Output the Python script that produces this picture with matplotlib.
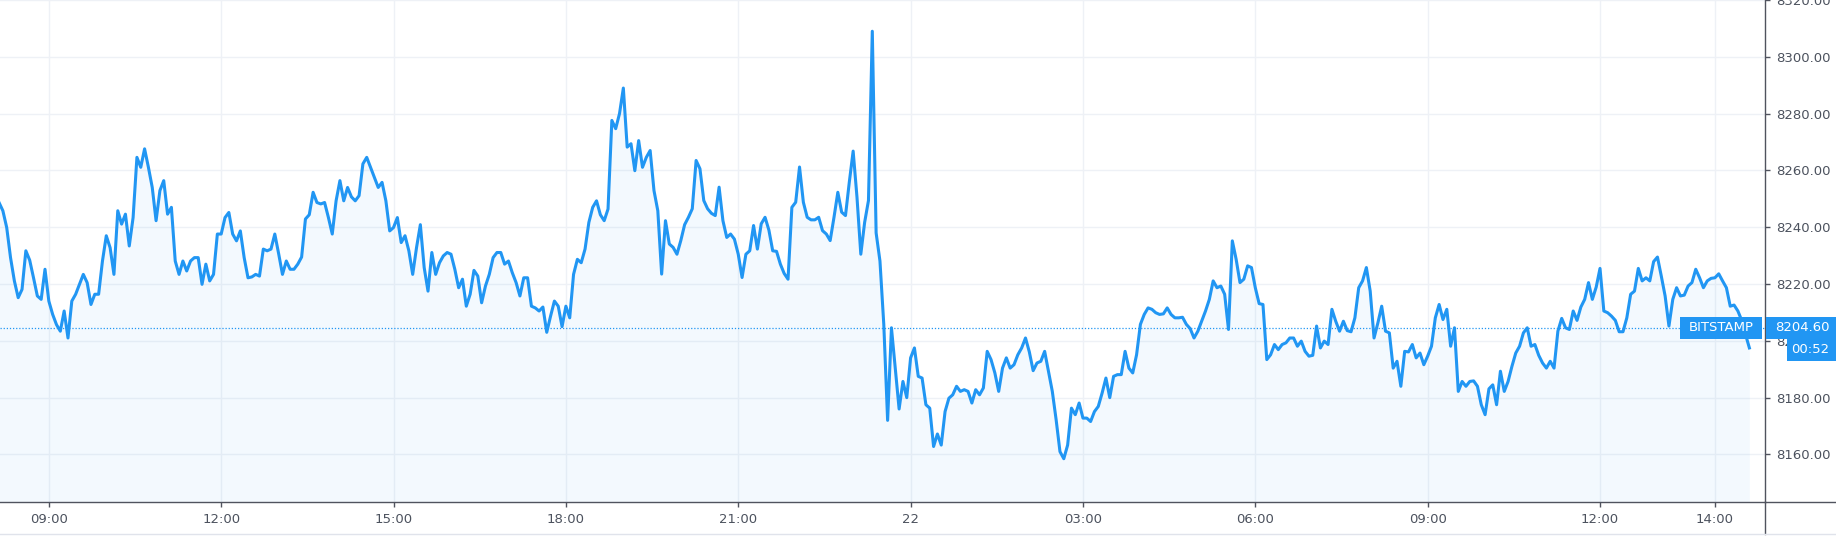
import matplotlib
matplotlib.use("Agg")  # no display

import matplotlib.pyplot as plt
import matplotlib.transforms as mtransforms
from matplotlib.patches import Rectangle
from matplotlib.lines import Line2D
import numpy as np
import pandas as pd

# BTC/USD on Bitstamp, 4-minute samples
start_time = "2019-10-21 08:08"
step = "4min"

prices_a = [8248.7, 8245.8, 8239.9, 8229.3, 8221.1, 8215.2, 8218.1, 8231.7, 8228.4, 8222.2,
            8215.8, 8214.6, 8225.2, 8214.0, 8209.3, 8205.7, 8203.4, 8210.5, 8201.0, 8214.0,
            8216.4, 8219.9, 8223.4, 8220.5, 8212.8, 8216.4, 8216.4, 8228.1, 8237.0, 8232.8,
            8223.4, 8245.8, 8241.1, 8244.6, 8233.4, 8243.4, 8264.6, 8261.1, 8267.6, 8261.1,
            8254.0, 8242.3, 8252.9, 8256.4, 8244.6, 8247.0, 8228.1, 8223.4, 8228.1, 8224.6,
            8228.1, 8229.3, 8229.3, 8219.9, 8227.0, 8221.1, 8223.4, 8237.6]
prices_b = [8237.6, 8243.4, 8245.2, 8237.6, 8235.2, 8238.7, 8229.3, 8222.2, 8222.5, 8223.4,
            8222.8, 8232.3, 8231.7, 8232.3, 8237.6, 8230.7, 8223.4, 8228.1, 8225.2, 8225.2,
            8227.0, 8229.5, 8242.9, 8244.4, 8252.3, 8248.7, 8248.2, 8248.7, 8243.4, 8237.6,
            8249.3, 8256.4, 8249.3, 8254.0, 8250.7, 8249.3, 8251.1, 8262.3, 8264.6, 8261.1,
            8257.6, 8254.0, 8255.8, 8249.3, 8238.7, 8239.9, 8243.4, 8234.6, 8237.0, 8231.7,
            8223.4, 8232.8, 8240.9, 8225.8, 8217.5, 8231.1, 8223.4, 8227.5]
prices_c = [8229.9, 8231.1, 8230.5, 8225.2, 8218.7, 8221.7, 8212.2, 8216.4, 8224.8, 8222.8,
            8213.4, 8219.3, 8223.4, 8229.3, 8231.1, 8231.1, 8227.0, 8228.1, 8224.0, 8220.5,
            8215.8, 8222.2, 8222.2, 8212.2, 8211.6, 8210.5, 8211.9, 8203.0, 8208.7, 8214.0,
            8212.2, 8205.0, 8212.2, 8208.1, 8223.4, 8228.7, 8227.5, 8232.3, 8241.7, 8247.0,
            8249.3, 8244.4, 8242.3, 8246.4, 8277.6, 8274.7, 8280.0, 8289.0, 8268.2, 8269.4,
            8259.9, 8270.5, 8261.1, 8264.6, 8267.0, 8252.9, 8245.8]
prices_d = [8223.5, 8242.3, 8234.1, 8232.9, 8230.5, 8235.3, 8240.9, 8243.5, 8246.5, 8263.5,
            8260.6, 8249.4, 8246.5, 8244.9, 8244.1, 8254.1, 8242.3, 8236.4, 8237.6, 8235.8,
            8230.5, 8222.3, 8230.5, 8231.7, 8240.6, 8232.3, 8241.2, 8243.5, 8239.0, 8231.7,
            8231.5, 8227.0, 8223.7, 8221.7, 8247.0, 8248.8, 8261.2, 8248.8, 8243.5, 8242.6,
            8242.6, 8243.5, 8238.8, 8237.6, 8235.3, 8243.5, 8252.3, 8245.3, 8244.1, 8255.9,
            8266.8, 8250.6, 8230.5, 8241.7, 8249.4, 8309.0, 8238.0]
prices_e = [8228.1, 8205.8, 8172.0, 8204.6, 8190.4, 8176.0, 8185.7, 8180.0, 8194.0, 8197.5,
            8187.5, 8186.9, 8177.5, 8176.3, 8162.8, 8167.2, 8163.3, 8175.1, 8179.8, 8181.0,
            8184.0, 8182.2, 8182.8, 8182.2, 8178.1, 8182.8, 8181.0, 8183.4, 8196.3, 8193.4,
            8188.7, 8182.2, 8190.4, 8194.0, 8190.4, 8191.6, 8195.1, 8197.5, 8201.0, 8196.1,
            8189.5, 8192.2, 8192.8, 8196.3, 8189.3, 8182.2, 8172.2, 8161.0, 8158.5, 8163.3,
            8176.3, 8174.0, 8178.1, 8172.8, 8172.8, 8171.6, 8175.1, 8176.9]
prices_f = [8181.6, 8186.9, 8180.0, 8187.5, 8188.1, 8188.1, 8196.3, 8190.4, 8188.7, 8195.1,
            8205.8, 8209.3, 8211.6, 8211.1, 8209.9, 8209.3, 8209.5, 8211.6, 8209.3, 8208.1,
            8208.1, 8208.3, 8205.8, 8204.3, 8201.0, 8203.4, 8206.9, 8210.5, 8214.6, 8221.1,
            8218.7, 8219.3, 8216.4, 8204.0, 8235.2, 8228.7, 8220.5, 8221.7, 8226.4, 8225.8,
            8218.7, 8213.1, 8212.8, 8193.4, 8195.1, 8198.7, 8196.9, 8198.7, 8199.3, 8201.0,
            8201.0, 8198.1, 8199.9, 8196.3, 8194.6, 8194.9, 8205.2, 8197.5]
prices_g = [8199.9, 8198.7, 8211.1, 8206.9, 8203.4, 8206.9, 8203.6, 8203.2, 8208.1, 8218.7,
            8221.1, 8225.8, 8217.5, 8201.0, 8206.3, 8212.2, 8203.4, 8202.8, 8190.4, 8192.8,
            8184.0, 8196.3, 8196.1, 8198.7, 8194.0, 8195.7, 8191.6, 8194.6, 8198.1, 8208.1,
            8212.8, 8207.5, 8211.1, 8198.1, 8204.6, 8182.2, 8185.7, 8184.0, 8185.7, 8185.9,
            8184.0, 8177.5, 8174.0, 8183.1, 8184.5, 8177.5, 8189.3, 8182.2, 8185.7, 8191.0,
            8195.7, 8198.1, 8202.8, 8204.6, 8198.1, 8198.7, 8194.9]
prices_h = [8192.2, 8190.4, 8192.8, 8190.4, 8203.4, 8207.9, 8204.6, 8204.0, 8210.5, 8207.2,
            8211.9, 8214.6, 8220.5, 8214.6, 8218.9, 8225.5, 8210.5, 8209.9, 8208.7, 8207.2,
            8203.2, 8203.2, 8208.1, 8216.4, 8217.5, 8225.5, 8221.1, 8222.2, 8221.1, 8227.9,
            8229.5, 8222.8, 8215.8, 8205.2, 8214.6, 8218.7, 8215.8, 8216.1, 8219.3, 8220.5,
            8225.2, 8222.2, 8218.7, 8221.1, 8222.0, 8222.2, 8223.6, 8221.1, 8218.7, 8212.2,
            8212.6, 8210.5, 8207.2, 8202.2, 8197.5]

last_price = 8204.60
last_label = "8204.60"
countdown = "00:52"
exchange = "BITSTAMP"

tick_times = ["2019-10-21 09:00", "2019-10-21 12:00", "2019-10-21 15:00", "2019-10-21 18:00",
              "2019-10-21 21:00", "2019-10-22 00:00", "2019-10-22 03:00", "2019-10-22 06:00",
              "2019-10-22 09:00", "2019-10-22 12:00", "2019-10-22 14:00"]
tick_labels = ["09:00", "12:00", "15:00", "18:00", "21:00", "22",
               "03:00", "06:00", "09:00", "12:00", "14:00"]
y_ticks = [8160, 8180, 8200, 8220, 8240, 8260, 8280, 8300, 8320]

prices = np.array(prices_a + prices_b + prices_c + prices_d +
                  prices_e + prices_f + prices_g + prices_h)
times = pd.date_range(start_time, periods=len(prices), freq=step)

blue = "#2196f3"
axis_col = "#50535e"
text_col = "#4c525e"
grid_col = "#eef1f6"
fs = 9.5

W, H = 1836, 538
fig = plt.figure(figsize=(W / 100, H / 100), dpi=100)
ax_right = 1764.7 / W
ax_bottom = (H - 501.6) / H
ax = fig.add_axes([0, ax_bottom, ax_right, 1 - ax_bottom])

y_lo, y_hi = 8143.4, 8320.0
ax.set_xlim(pd.Timestamp("2019-10-21 08:09"), pd.Timestamp("2019-10-22 14:52"))
ax.set_ylim(y_lo, y_hi)

ax.fill_between(times, prices, y_lo, color=blue, alpha=0.05, lw=0)
ax.plot(times, prices, color=blue, lw=2.2, solid_joinstyle="round")
ax.axhline(last_price, color=blue, lw=0.9, ls=(0, (1, 1.5)))

ax.set_axisbelow(True)
ax.grid(True, color=grid_col, lw=1)

ax.set_xticks(pd.to_datetime(tick_times))
ax.set_xticklabels(tick_labels)
ax.yaxis.tick_right()
ax.set_yticks(y_ticks)
ax.set_yticklabels([f"{v:.2f}" for v in y_ticks])
ax.tick_params(axis="both", colors=axis_col, labelcolor=text_col, labelsize=fs,
               length=3.5, width=1)
ax.tick_params(axis="x", pad=5)
ax.tick_params(axis="y", pad=5)

for side in ["top", "left"]:
    ax.spines[side].set_visible(False)
for side in ["right", "bottom"]:
    ax.spines[side].set_color(axis_col)
    ax.spines[side].set_linewidth(1)

# axis lines run on past the plot corner
fig.add_artist(Line2D([ax_right, ax_right], [(H - 533.5) / H, ax_bottom],
                      transform=fig.transFigure, color=axis_col, lw=1))
fig.add_artist(Line2D([ax_right, 1], [ax_bottom, ax_bottom],
                      transform=fig.transFigure, color=axis_col, lw=1))
fig.add_artist(Line2D([0, 1], [(H - 533.5) / H, (H - 533.5) / H],
                      transform=fig.transFigure, color="#e0e3eb", lw=1))

# last price labels
trans = mtransforms.blended_transform_factory(fig.transFigure, ax.transData)
box_h = 22 / 2.83  # price units
ax.add_patch(Rectangle((1679.6 / W, last_price - box_h / 2), 82.4 / W, box_h,
                       transform=trans, color=blue, lw=0, clip_on=False, zorder=5))
ax.text(1720.8 / W, last_price, exchange, transform=trans, ha="center", va="center",
        color="white", fontsize=fs, clip_on=False, zorder=6)
ax.add_patch(Rectangle((1766 / W, last_price - box_h / 2), 70 / W, box_h,
                       transform=trans, color=blue, lw=0, clip_on=False, zorder=5))
ax.text(1775.5 / W, last_price, last_label, transform=trans, ha="left", va="center",
        color="white", fontsize=fs, clip_on=False, zorder=6)
ax.add_patch(Rectangle((1787 / W, last_price - box_h * 1.5), 49 / W, box_h,
                       transform=trans, color=blue, lw=0, clip_on=False, zorder=5))
ax.text(1829.5 / W, last_price - box_h, countdown, transform=trans, ha="right",
        va="center", color="white", fontsize=fs, clip_on=False, zorder=6)

fig.savefig("out.png", dpi=100)
